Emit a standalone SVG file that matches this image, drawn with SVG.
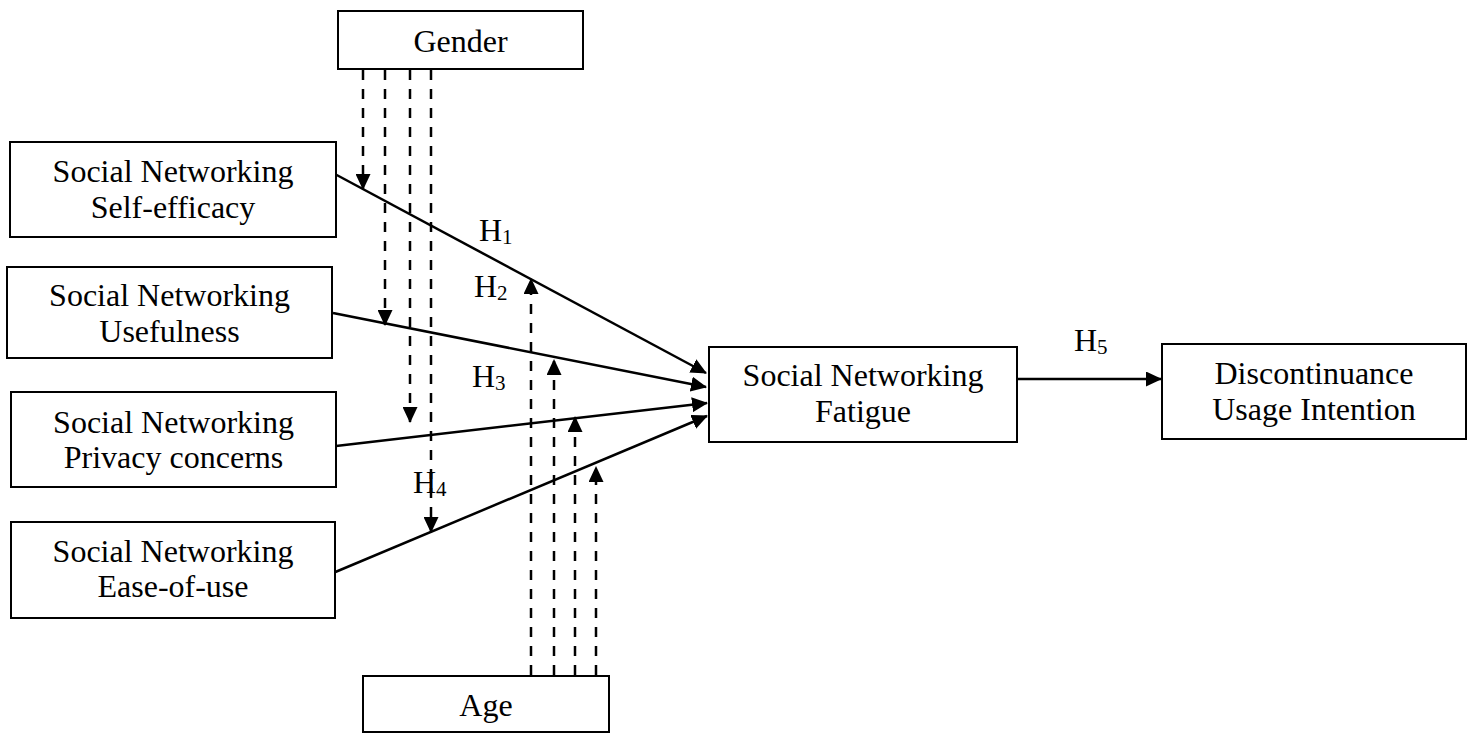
<svg xmlns="http://www.w3.org/2000/svg" width="1475" height="734" viewBox="0 0 1475 734">
<style>
  .box { fill: #ffffff; stroke: #000000; stroke-width: 2; }
  .t { font-family: "Liberation Serif", "Times New Roman", serif; font-size: 32px; fill: #000000; text-anchor: middle; }
  .h { font-family: "Liberation Serif", "Times New Roman", serif; font-size: 32px; fill: #000000; }
  .sub { font-size: 21px; }
  .solid { stroke: #000000; stroke-width: 2.5; fill: none; marker-end: url(#arr); }
  .dash { stroke: #000000; stroke-width: 2.5; fill: none; stroke-dasharray: 10 9; marker-end: url(#arr); }
</style>
<defs>
  <marker id="arr" markerUnits="userSpaceOnUse" markerWidth="16" markerHeight="15" refX="15" refY="7.5" orient="auto" viewBox="0 0 16 15">
    <path d="M0,0 L16,7.5 L0,15 Z" fill="#000000" stroke="none"/>
  </marker>
</defs>
<rect width="1475" height="734" fill="#ffffff"/>

<g id="connectors">
  <!-- predictors to fatigue -->
  <line class="solid" x1="333" y1="173" x2="706" y2="373"/>
  <line class="solid" x1="333" y1="313" x2="706" y2="387"/>
  <line class="solid" x1="336" y1="446" x2="707" y2="403"/>
  <line class="solid" x1="333" y1="573" x2="707" y2="416"/>
  <!-- fatigue to discontinuance -->
  <line class="solid" x1="1017" y1="379" x2="1161" y2="379"/>
  <!-- gender moderation -->
  <line class="dash" x1="363" y1="70" x2="363" y2="189"/>
  <line class="dash" x1="385" y1="70" x2="385" y2="325"/>
  <line class="dash" x1="410" y1="70" x2="410" y2="422"/>
  <line class="dash" x1="431" y1="70" x2="431" y2="532"/>
  <!-- age moderation -->
  <line class="dash" x1="531" y1="675" x2="531" y2="279"/>
  <line class="dash" x1="554" y1="675" x2="554" y2="360"/>
  <line class="dash" x1="575" y1="675" x2="575" y2="417"/>
  <line class="dash" x1="596" y1="675" x2="596" y2="467"/>
</g>

<g id="labels">
  <text class="h" x="479" y="241">H<tspan class="sub" dy="3">1</tspan></text>
  <text class="h" x="474" y="297">H<tspan class="sub" dy="3">2</tspan></text>
  <text class="h" x="472" y="387">H<tspan class="sub" dy="3">3</tspan></text>
  <text class="h" x="413" y="493">H<tspan class="sub" dy="3">4</tspan></text>
  <text class="h" x="1074" y="351">H<tspan class="sub" dy="3">5</tspan></text>
</g>

<g id="gender">
  <rect class="box" x="338" y="11" width="245" height="58"/>
  <text class="t" x="460.5" y="52">Gender</text>
</g>

<g id="self-efficacy">
  <rect class="box" x="10" y="142" width="326" height="95"/>
  <text class="t" x="173" y="182">Social Networking</text>
  <text class="t" x="173" y="218">Self-efficacy</text>
</g>

<g id="usefulness">
  <rect class="box" x="7" y="267" width="325" height="91"/>
  <text class="t" x="169.5" y="306">Social Networking</text>
  <text class="t" x="169.5" y="342">Usefulness</text>
</g>

<g id="privacy">
  <rect class="box" x="11" y="392" width="325" height="95"/>
  <text class="t" x="173.5" y="433">Social Networking</text>
  <text class="t" x="173.5" y="468">Privacy concerns</text>
</g>

<g id="ease-of-use">
  <rect class="box" x="11" y="522" width="324" height="96"/>
  <text class="t" x="173" y="562">Social Networking</text>
  <text class="t" x="173" y="597">Ease-of-use</text>
</g>

<g id="fatigue">
  <rect class="box" x="709" y="347" width="308" height="95"/>
  <text class="t" x="863" y="386">Social Networking</text>
  <text class="t" x="863" y="422">Fatigue</text>
</g>

<g id="discontinuance">
  <rect class="box" x="1162" y="344" width="304" height="95"/>
  <text class="t" x="1314" y="384">Discontinuance</text>
  <text class="t" x="1314" y="420">Usage Intention</text>
</g>

<g id="age">
  <rect class="box" x="363" y="676" width="246" height="56"/>
  <text class="t" x="486" y="716">Age</text>
</g>
</svg>
